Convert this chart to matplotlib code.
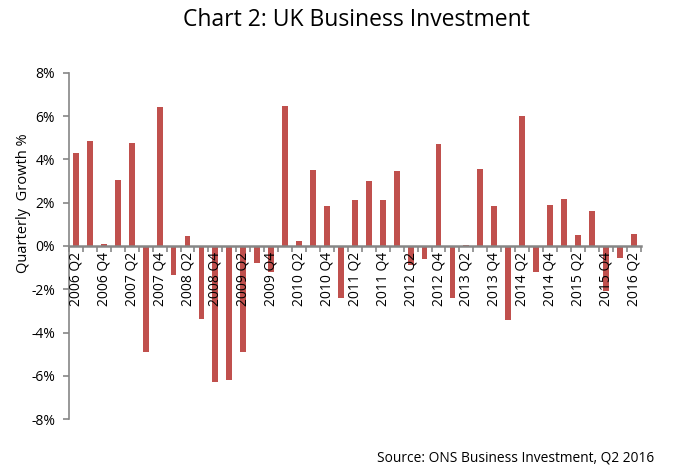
import matplotlib.pyplot as plt
from matplotlib.ticker import FuncFormatter, MultipleLocator
import numpy as np

# quarters 2006 Q2 .. 2016 Q2
years = [2006] * 3 + [y for y in range(2007, 2016) for _ in range(4)] + [2016] * 2
quarters = [2, 3, 4] + [1, 2, 3, 4] * 9 + [1, 2]
labels = [f"{y} Q{q}" for y, q in zip(years, quarters)]

growth = [4.3, 4.85, 0.1, 3.05, 4.75, -4.9, 6.4, -1.35, 0.45, -3.35,
          -6.3, -6.2, -4.9, -0.8, -1.2, 6.45, 0.25, 3.5, 1.85, -2.4,
          2.1, 3.0, 2.1, 3.45, -0.9, -0.6, 4.7, -2.4, 0.05, 3.55,
          1.85, -3.4, 6.0, -1.2, 1.9, 2.15, 0.5, 1.6, -2.1, -0.55, 0.55]

plt.rcParams['font.family'] = ['Open Sans', 'DejaVu Sans']

fig = plt.figure(figsize=(6.79, 4.65), dpi=100)
ax = fig.add_axes([0.1016, 0.0983, 0.842, 0.7454])

x = np.arange(len(growth))
ax.bar(x, growth, width=0.42, color='#C0504D', zorder=1)
ax.set_axisbelow(False)

ax.set_xlim(-0.5, len(growth) - 0.5)
ax.set_ylim(-8, 8)
ax.yaxis.set_major_locator(MultipleLocator(2))
ax.yaxis.set_major_formatter(FuncFormatter(lambda v, p: f"{v:.0f}%"))

for s in ['top', 'right']:
    ax.spines[s].set_visible(False)
ax.spines['left'].set_color('#868686')
ax.spines['bottom'].set_color('#868686')
ax.spines['bottom'].set_position(('data', 0))
ax.spines['left'].set_linewidth(1.2)
ax.spines['bottom'].set_linewidth(1.8)

# tick marks between categories, labels every other quarter
ax.set_xticks(np.arange(-0.5, len(growth), 1))
ax.set_xticklabels([])
ax.tick_params(axis='x', which='major', length=4, color='#868686', width=1.2)
ax.set_xticks(x[::2], minor=True)
ax.set_xticklabels(labels[::2], minor=True, rotation=90, fontsize=10)
ax.tick_params(axis='x', which='minor', length=0, pad=4)
for t in ax.get_xticklabels(minor=True):
    t.set_verticalalignment('top')

ax.tick_params(axis='y', length=4, color='#868686', width=1.2, labelsize=10, pad=6)

fig.text(24 / 679, 1 - 203 / 465, "Quarterly  Growth %", rotation=90,
         ha='center', va='center', fontsize=10.5)
fig.text(0.525, 1 - 20 / 465, "Chart 2: UK Business Investment",
         ha='center', va='center', fontsize=16.5)
fig.text(654 / 679, 1 - 458 / 465, "Source: ONS Business Investment, Q2 2016",
         ha='right', va='center', fontsize=9.9)

fig.savefig('out.png', dpi=100)
